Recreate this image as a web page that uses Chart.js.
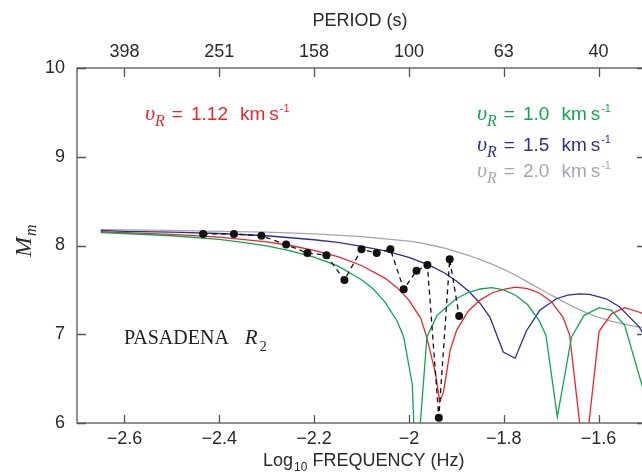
<!DOCTYPE html>
<html>
<head>
<meta charset="utf-8">
<script src="https://cdn.jsdelivr.net/npm/chart.js@4.4.1/dist/chart.umd.min.js"></script>
<style>
  html, body { margin: 0; padding: 0; background: #fff; overflow: hidden; }
  canvas { display: block; }
</style>
</head>
<body>
<canvas id="c" width="650" height="472"></canvas>
<script>
// axis ticks
const freqTicks = [-2.6, -2.4, -2.2, -2.0, -1.8, -1.6];
const freqLabels = ['\u22122.6', '\u22122.4', '\u22122.2', '\u22122', '\u22121.8', '\u22121.6'];
const periodLabels = ['398', '251', '158', '100', '63', '40'];
const magTicks = [6, 7, 8, 9, 10];

// observed Pasadena R2 points
const obsX = [-2.434, -2.369, -2.311, -2.259, -2.214, -2.174, -2.136, -2.100, -2.068, -2.039, -2.011, -1.984, -1.961, -1.937, -1.914, -1.894];
const obsY = [8.13, 8.13, 8.11, 8.01, 7.915, 7.89, 7.61, 7.957, 7.915, 7.957, 7.507, 7.715, 7.78, 6.06, 7.845, 7.206];

// theoretical curves, one per rupture velocity
const grayX = [-2.65, -2.6, -2.5, -2.4, -2.3, -2.2, -2.1, -2.0, -1.975, -1.95, -1.925, -1.9, -1.875, -1.85, -1.825, -1.8, -1.775, -1.75, -1.725, -1.7, -1.675, -1.65, -1.625, -1.6, -1.575, -1.55, -1.525, -1.5];
const grayY = [8.18, 8.175, 8.17, 8.16, 8.15, 8.13, 8.10, 8.05, 8.03, 8.00, 7.97, 7.93, 7.89, 7.84, 7.79, 7.73, 7.665, 7.59, 7.515, 7.44, 7.37, 7.30, 7.24, 7.19, 7.15, 7.12, 7.09, 7.07];

const blueX = [-2.65, -2.6, -2.5, -2.4, -2.3, -2.2, -2.15, -2.1, -2.05, -2.0, -1.975, -1.95, -1.925, -1.9, -1.875, -1.85, -1.829, -1.801, -1.776, -1.752, -1.724, -1.689, -1.665, -1.64, -1.619, -1.584, -1.556, -1.514, -1.5];
const blueY = [8.17, 8.16, 8.15, 8.135, 8.11, 8.065, 8.035, 7.99, 7.94, 7.865, 7.815, 7.76, 7.69, 7.60, 7.49, 7.35, 7.19, 6.80, 6.73, 7.04, 7.27, 7.40, 7.44, 7.455, 7.45, 7.40, 7.31, 7.08, 6.95];

const redX = [-2.65, -2.6, -2.5, -2.4, -2.3, -2.25, -2.2, -2.15, -2.1, -2.05, -2.025, -2.0, -1.975, -1.962, -1.944, -1.935, -1.927, -1.913, -1.899, -1.875, -1.85, -1.825, -1.8, -1.775, -1.75, -1.725, -1.7, -1.675, -1.661, -1.63, -1.599, -1.573, -1.545, -1.509, -1.5];
const redY = [8.155, 8.145, 8.125, 8.095, 8.04, 8.00, 7.945, 7.875, 7.775, 7.63, 7.525, 7.385, 7.18, 6.96, 6.56, 6.24, 6.35, 6.82, 7.05, 7.26, 7.385, 7.465, 7.505, 7.53, 7.515, 7.465, 7.37, 7.19, 6.99, 5.53, 7.03, 7.23, 7.30, 7.24, 7.17];

const greenX = [-2.65, -2.6, -2.5, -2.4, -2.35, -2.3, -2.25, -2.2, -2.15, -2.1, -2.075, -2.05, -2.025, -2.011, -1.993, -1.985, -1.962, -1.941, -1.92, -1.9, -1.875, -1.85, -1.825, -1.8, -1.775, -1.75, -1.725, -1.711, -1.687, -1.657, -1.631, -1.599, -1.573, -1.545, -1.5];
const greenY = [8.145, 8.135, 8.11, 8.07, 8.035, 7.995, 7.94, 7.87, 7.77, 7.615, 7.51, 7.36, 7.15, 6.97, 6.44, 5.37, 6.97, 7.21, 7.31, 7.40, 7.47, 7.51, 7.525, 7.50, 7.44, 7.335, 7.15, 6.99, 6.07, 6.97, 7.21, 7.30, 7.27, 7.10, 6.27];

const vrLabels = ['1.12', '1.0', '1.5', '2.0'];

const RED = '#e8262b', GREEN = '#11a54e', BLUE = '#2c2f8c', GRAY = '#a3a7ad';
const AXIS = '#555';
const TXT = '#2a2a2a';
const SANS = '"Liberation Sans", Arial, sans-serif';
const SERIF = '"Liberation Serif", "Times New Roman", serif';

function pts(xs, ys) {
  return xs.map((x, i) => ({ x: x, y: ys[i] }));
}

function curve(xs, ys, color, order) {
  return {
    data: pts(xs, ys),
    showLine: true,
    borderColor: color,
    borderWidth: 1.3,
    pointRadius: 0,
    fill: false,
    tension: 0,
    order: order
  };
}

function rich(ctx, x, y, parts, color) {
  ctx.fillStyle = color;
  ctx.textAlign = 'left';
  ctx.textBaseline = 'alphabetic';
  parts.forEach(p => {
    ctx.font = p[1];
    x += p[2];
    ctx.fillText(p[0], x, y + p[3]);
    x += ctx.measureText(p[0]).width;
  });
}

function vrParts(num) {
  return [
    ['\u03c5', 'italic 22px ' + SERIF, 0, 0],
    ['R', 'italic 16px ' + SERIF, 0, 6],
    ['=', '19px ' + SANS, 7, 0],
    [num, '19px ' + SANS, 8, 0],
    ['km', '19px ' + SANS, 12, 0],
    ['s', '19px ' + SANS, 4, 0],
    ['-1', '11px ' + SANS, 1, -8]
  ];
}

const decor = {
  id: 'decor',
  afterDraw(chart) {
    const ctx = chart.ctx;
    const a = chart.chartArea;
    const xs = chart.scales.x, ys = chart.scales.y;
    ctx.save();
    ctx.strokeStyle = AXIS;
    ctx.lineWidth = 1.3;
    ctx.strokeRect(a.left, a.top, a.right - a.left, a.bottom - a.top);
    ctx.beginPath();
    freqTicks.forEach(v => {
      const px = Math.round(xs.getPixelForValue(v)) + 0.5;
      ctx.moveTo(px, a.bottom); ctx.lineTo(px, a.bottom - 8);
      ctx.moveTo(px, a.top); ctx.lineTo(px, a.top + 9);
    });
    magTicks.forEach(v => {
      const py = Math.round(ys.getPixelForValue(v)) + 0.5;
      ctx.moveTo(a.left, py); ctx.lineTo(a.left + 9, py);
      ctx.moveTo(a.right, py); ctx.lineTo(a.right - 9, py);
    });
    ctx.stroke();

    // axis titles
    ctx.fillStyle = TXT;
    ctx.textAlign = 'center';
    ctx.textBaseline = 'alphabetic';
    ctx.font = '18px ' + SANS;
    ctx.fillText('PERIOD (s)', 360, 26);

    rich(ctx, 263, 466, [
      ['Log', '18px ' + SANS, 0, 0],
      ['10', '12px ' + SANS, 1, 5],
      [' FREQUENCY (Hz)', '18px ' + SANS, 0, 0]
    ], TXT);

    ctx.save();
    ctx.translate(31, 257);
    ctx.rotate(-Math.PI / 2);
    ctx.fillStyle = TXT;
    ctx.textAlign = 'left';
    ctx.font = 'italic 24px ' + SERIF;
    ctx.fillText('M', 0, 0);
    const mw = ctx.measureText('M').width;
    ctx.font = 'italic 16px ' + SERIF;
    ctx.fillText('m', mw + 1, 5);
    ctx.restore();

    // station label
    rich(ctx, 124, 344, [
      ['PASADENA', '20px ' + SERIF, 0, 0],
      ['R', 'italic 21px ' + SERIF, 16, 0],
      ['2', '14px ' + SERIF, 2, 7]
    ], '#222');

    // rupture velocity labels
    rich(ctx, 145, 120, vrParts(vrLabels[0]), RED);
    rich(ctx, 477, 120, vrParts(vrLabels[1]), GREEN);
    rich(ctx, 477, 151, vrParts(vrLabels[2]), BLUE);
    rich(ctx, 477, 177, vrParts(vrLabels[3]), GRAY);
    ctx.restore();
  }
};

const tickFont = { family: SANS, size: 18 };

new Chart(document.getElementById('c'), {
  type: 'scatter',
  data: {
    datasets: [
      {
        data: pts(obsX, obsY),
        showLine: true,
        borderColor: '#111',
        borderWidth: 1.3,
        borderDash: [5, 4],
        pointRadius: 4,
        pointBackgroundColor: '#111',
        pointBorderWidth: 0,
        fill: false,
        tension: 0,
        order: 0
      },
      curve(greenX, greenY, GREEN, 1),
      curve(redX, redY, RED, 2),
      curve(blueX, blueY, BLUE, 3),
      curve(grayX, grayY, GRAY, 4)
    ]
  },
  options: {
    responsive: false,
    devicePixelRatio: 1,
    animation: false,
    layout: { padding: { left: 0, right: 4, top: 0, bottom: 0 } },
    plugins: { legend: { display: false }, tooltip: { enabled: false } },
    scales: {
      x: {
        type: 'linear',
        position: 'bottom',
        min: -2.7,
        max: -1.5,
        grid: { display: false, drawTicks: false },
        border: { display: false },
        afterBuildTicks: s => { s.ticks = freqTicks.map(v => ({ value: v })); },
        afterFit: s => { s.height = 49; },
        ticks: {
          font: tickFont,
          color: TXT,
          padding: 5,
          maxRotation: 0,
          callback: (v, i) => freqLabels[i]
        }
      },
      x2: {
        type: 'linear',
        axis: 'x',
        position: 'top',
        min: -2.7,
        max: -1.5,
        grid: { display: false, drawTicks: false },
        border: { display: false },
        afterBuildTicks: s => { s.ticks = freqTicks.map(v => ({ value: v })); },
        afterFit: s => { s.height = 68; },
        ticks: {
          font: tickFont,
          color: TXT,
          padding: 5,
          maxRotation: 0,
          callback: (v, i) => periodLabels[i]
        }
      },
      y: {
        type: 'linear',
        position: 'left',
        min: 6,
        max: 10,
        grid: { display: false, drawTicks: false },
        border: { display: false },
        afterBuildTicks: s => { s.ticks = magTicks.map(v => ({ value: v })); },
        afterFit: s => { s.width = 77; },
        ticks: {
          font: tickFont,
          color: TXT,
          padding: 12,
          callback: v => String(v)
        }
      }
    }
  },
  plugins: [decor]
});
</script>
</body>
</html>
